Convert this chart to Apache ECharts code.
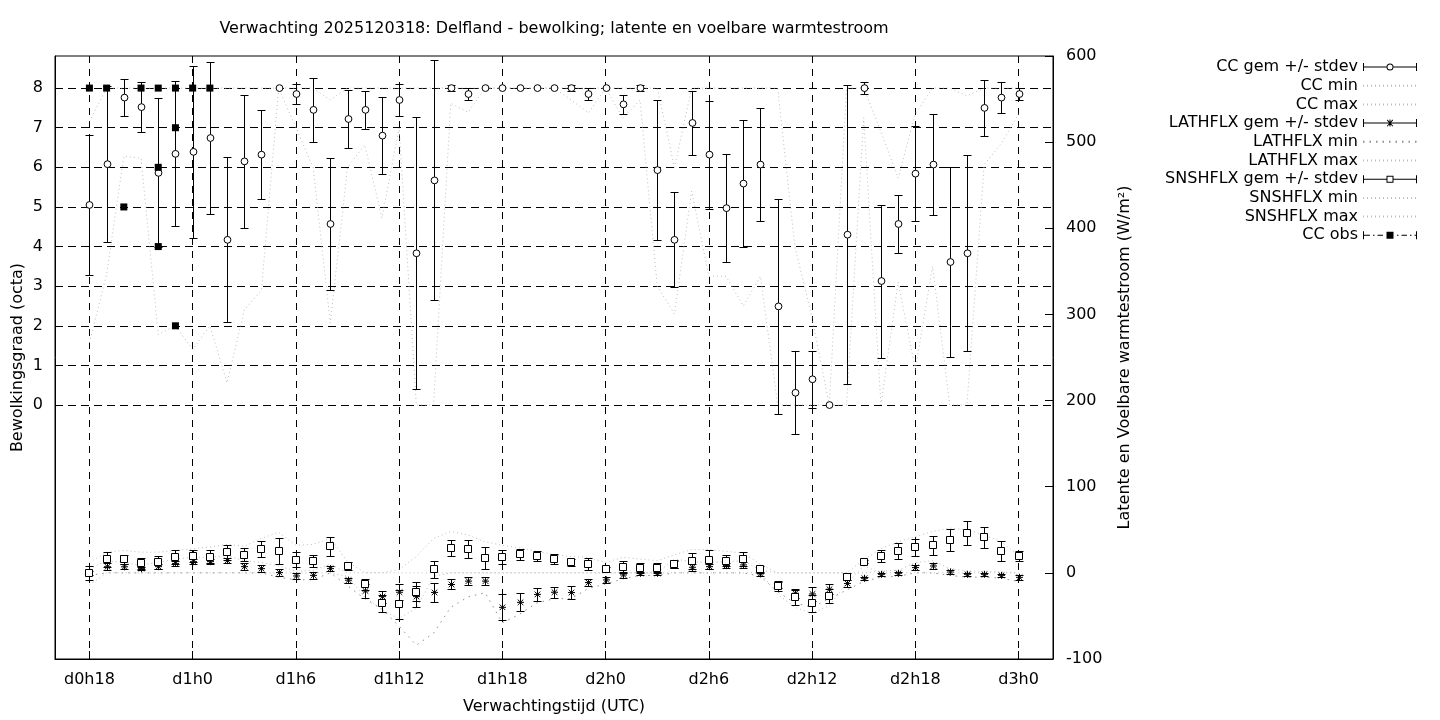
<!DOCTYPE html>
<html><head><meta charset="utf-8">
<script src="https://cdn.jsdelivr.net/npm/echarts@6/dist/echarts.min.js"></script>
<style>html,body{margin:0;padding:0;background:#fff}#c{width:1440px;height:720px}</style>
</head><body><div id="c"></div>
<script>
// ---- data (x = hours since d0h0) ----
const hours = [18,19,20,21,22,23,24,25,26,27,28,29,30,31,32,33,34,35,36,37,38,39,40,41,42,43,44,45,46,47,48,49,50,51,52,53,54,55,56,57,58,59,60,61,62,63,64,65,66,67,68,69,70,71,72];
const tickValues = [18,24,30,36,42,48,54,60,66,72];
const tickLabels = ['d0h18','d1h0','d1h6','d1h12','d1h18','d2h0','d2h6','d2h12','d2h18','d3h0'];
const ccTicks = [0,1,2,3,4,5,6,7,8];

const ccMean = [5.05,6.08,7.76,7.52,5.86,6.34,6.39,6.74,4.17,6.15, 6.32,8.0,7.85,7.45,4.57,7.22,7.45,6.8,7.7,3.83, 5.67,8.0,7.85,8.0,8.0,8.0,8.0,8.0,8.0,7.85, 8.0,7.59,8.0,5.93,4.17,7.12,6.32,4.97,5.59,6.07, 2.49,0.31,0.65,0.0,4.3,8.0,3.13,4.57,5.84,6.07, 3.61,3.83,7.5,7.76,7.85];
const ccStd = [1.77,1.97,0.47,0.63,1.88,1.83,2.17,1.93,2.08,1.68, 1.12,0,0.25,0.81,1.67,0.72,0.48,0.97,0.41,3.43, 3.03,0.08,0.15,0,0,0,0,0,0.08,0.15, 0,0.24,0.08,1.76,1.2,0.8,1.36,1.36,1.6,1.43, 2.72,1.05,0.72,0,3.77,0.16,1.93,0.72,1.2,1.28, 2.4,2.47,0.7,0.4,0.15];
const ccMin = [1.57,3.3,6.28,6.23,1.78,2.0,1.4,2.0,0.56,2.4, 2.9,8,7.0,6.0,2.07,6.0,6.57,4.72,7.0,0, 0,7.62,7.39,8,8,8,8,8,7.7,7.37, 8,7.24,7.7,3.0,2.3,5.4,3.25,3.25,2.5,3.25, 0,0,0,0,0,7.25,0,3.1,0.9,3.5, 0,0,6.07,6.6,7.35];
const ccMax = [7.16,8,8,8,8,8,8,8,8,8, 8,8,8,8,7.7,8,8,8,8,8, 8,8,8,8,8,8,8,8,8,8, 8,8,8,8,6.0,8,8,8,8,8, 8,4.0,2.2,0,8,8,6.9,5.73,7.35,8, 8,7.8,8,8,8];

const latMean = [0,7.1,7,4.9,7.2,11,13,13,14.2,7.2, 4.9,0.3,-3.6,-2.9,4.9,-8.5,-21,-27.6,-22.5,-27.6, -22.7,-13.5,-9.6,-9.6,-40,-34.2,-25,-22.5,-22.9,-11.3, -8.2,-2.4,-0.5,-0.5,9.2,6.5,7.2,8.4,9.2,-1.2, -14,-23.7,-24.5,-19,-12.3,-6.3,-1.7,-0.5,6.1,8, 1,-1.7,-1.7,-2.9,-5.2];
const latStd = [2,4,3,2,3,3,3,3,3,4, 4,4,3,4,3,3,8,7,9,12, 11.4,5.8,4.8,4.6,15,10.3,7.4,6.4,8,4, 3,3,2,2,4,4,3,3,3,2, 3,5,7.7,5.6,4,2,2,2,3,3, 2,2,2,2,3];
const latMin = [-3,0,0,0,0,0,0,0,0,0, 0,-5,-8,-8,0,-15,-30,-42,-62,-84, -70,-40,-28,-23,-58,-48,-35,-30,-30,-18, -13,-7,-3,-3,0,0,0,0,0,-4, -22,-35,-40,-30,-20,-10,-5,-4,0,0, -3,-5,-5,-6,-10];
const latMax = [5,14,12,9,12,16,18,18,20,14, 12,8,2,3,10,0,0,0,0,0, 0,0,0,0,0,0,0,0,0,0, 0,0,0,0,16,13,12,13,14,3, 0,0,0,0,0,0,2,3,12,14, 5,2,2,1,0];

const snsMean = [-0.5,15.6,15.6,11,12.3,18,19.6,18.8,23.9,20.8, 27.7,25.4,15,13.8,31,8,-13.4,-35.3,-36.5,-21.8, 4.1,28.4,27.3,16.9,18,21.6,19.6,15.8,12.3,9.9, 4.1,6.5,5.3,5.3,10.3,13.8,15,14.2,15.8,4.1, -15.2,-28.4,-35.3,-26.8,-4.5,13,19.6,25.4,29.7,31.9, 38.1,45.9,41.2,25.4,19.6];
const snsStd = [8,8.5,5,6.8,7.3,8,7.5,7.2,8.5,7.5, 9.5,15,8.7,7,11,5,6,10,17,11, 10,9.3,10.6,13,8,6.6,6,6,4,7, 3,7,6,6,5,9,11,6,8,4, 6,9,9.7,8,4,2,6.5,9,10,11, 13,14,12,11.6,6];
const snsMin = [-14,0,0,0,0,0,0,0,0,0, 0,0,0,0,0,-4,-28,-43,-53,-41, -4,0,0,0,0,0,0,0,0,0, 0,0,0,0,0,0,0,0,0,0, -25,-40,-47,-38,-12,8,0,0,0,0, 0,0,0,0,0];
const snsMax = [12,24,26,24,24,26,28,30,33,31, 40,47,32,33,40,13,0.3,0,4,19, 40,48,44,36,32,29,25,21,19,18, 12,18,16,14,21,27,27,25,23,10, 0,0,0,0,0,15,28,36,42,48, 52,50,44,36,20];

const obsHours = [18,19,20,21,22,22,22,23,23,23,24,25];
const obsCC    = [8,8,5,8,8,6,4,8,7,2,8,8];

// ---- helpers ----
const FONT = 'DejaVu Sans';
const FS = 16;
const GRAY = '#bebebe';
function errItem(marker){
  return function(params, api){
    const x = api.value(0), m = api.value(1), s = api.value(2);
    const p = api.coord([x, m]);
    const cx = Math.round(p[0]) + 0.5;
    const cy = p[1];
    const st = {stroke:'#000', lineWidth:1, fill:null};
    const ch = [];
    if (s > 0) {
      const t = Math.round(api.coord([x, m + s])[1]) + 0.5;
      const b = Math.round(api.coord([x, m - s])[1]) + 0.5;
      ch.push({type:'line', shape:{x1:cx,y1:t,x2:cx,y2:b}, style:st});
      ch.push({type:'line', shape:{x1:cx-4,y1:t,x2:cx+4,y2:t}, style:st});
      ch.push({type:'line', shape:{x1:cx-4,y1:b,x2:cx+4,y2:b}, style:st});
    }
    if (marker === 'circle') {
      ch.push({type:'circle', shape:{cx:cx, cy:cy, r:3.4}, style:{fill:'#fff', stroke:'#000', lineWidth:1}});
    } else if (marker === 'square') {
      const cyr = Math.round(cy) + 0.5;
      ch.push({type:'rect', shape:{x:cx-4, y:cyr-4, width:7, height:7}, style:{fill:'#fff', stroke:'#000', lineWidth:1}});
    } else {
      const a = 3.5, d = 2.8;
      ch.push({type:'line', shape:{x1:cx-a,y1:cy,x2:cx+a,y2:cy}, style:st});
      ch.push({type:'line', shape:{x1:cx,y1:cy-a,x2:cx,y2:cy+a}, style:st});
      ch.push({type:'line', shape:{x1:cx-d,y1:cy-d,x2:cx+d,y2:cy+d}, style:st});
      ch.push({type:'line', shape:{x1:cx-d,y1:cy+d,x2:cx+d,y2:cy-d}, style:st});
    }
    return {type:'group', children:ch};
  };
}
function rows(a, b){ return hours.map((h,i)=> b ? [h, a[i], b[i]] : [h, a[i]]); }
function dotted(name, arr, yIdx, dash, color){
  return {name:name, type:'line', yAxisIndex:yIdx, data:rows(arr), symbol:'none', silent:true,
    lineStyle:{color:color || GRAY, width:1, type:dash || [1,3]},
    itemStyle:{color:'rgba(0,0,0,0)', borderColor:'rgba(0,0,0,0)', borderWidth:0}, z:1};
}

const CAPS = 'M0,0H1V8H0Z M53,0H54V8H53Z ';
const iconCircle = 'path://' + CAPS + 'M1,3.5H23.5V4.5H1Z M30.5,3.5H53V4.5H30.5Z M23.5,4A3.5,3.5,0,1,1,30.5,4A3.5,3.5,0,1,1,23.5,4Z M24.5,4A2.5,2.5,0,1,0,29.5,4A2.5,2.5,0,1,0,24.5,4Z';
const iconStar = 'path://' + CAPS + 'M1,3.5H53V4.5H1Z M26.5,0.5H27.5V7.5H26.5Z M23.8,1.2L24.5,0.5L30.2,6.8L29.5,7.5Z M29.5,0.5L30.2,1.2L24.5,7.5L23.8,6.8Z';
const iconSquare = 'path://' + CAPS + 'M1,3.5H23.5V4.5H1Z M30.5,3.5H53V4.5H30.5Z M23.5,0.5H30.5V7.5H23.5Z M24.5,1.5V6.5H29.5V1.5Z';
const iconObs = 'path://' + CAPS + 'M1,3.5H7V4.5H1Z M10,3.5H11.5V4.5H10Z M14.5,3.5H20V4.5H14.5Z M23.5,0.5H30.5V7.5H23.5Z M34,3.5H35.5V4.5H34Z M38.5,3.5H44V4.5H38.5Z M47,3.5H48.5V4.5H47Z M51.5,3.5H53V4.5H51.5Z';

const chart = echarts.init(document.getElementById('c'), null, {renderer:'canvas'});
chart.setOption({
  animation:false,
  backgroundColor:'#fff',
  textStyle:{fontFamily:FONT, color:'#000'},
  title:{text:'Verwachting 2025120318: Delfland - bewolking; latente en voelbare warmtestroom',
    left:554, top:21, textAlign:'center', padding:0,
    textStyle:{fontFamily:FONT, fontSize:FS, fontWeight:'normal', color:'#000'}},
  grid:{left:55, right:387, top:56, bottom:61, containLabel:false, outerBoundsMode:'none',
    show:true, borderColor:'#000', borderWidth:1, backgroundColor:'transparent'},
  legend:{orient:'vertical', right:22, top:59, padding:0, align:'right', itemWidth:54, itemHeight:8, itemGap:2.7,
    selectedMode:false,
    itemStyle:{borderWidth:0},
    textStyle:{fontFamily:FONT, fontSize:FS, color:'#000'},
    data:[
      {name:'CC gem +/- stdev', icon:iconCircle},
      'CC min','CC max',
      {name:'LATHFLX gem +/- stdev', icon:iconStar},
      'LATHFLX min','LATHFLX max',
      {name:'SNSHFLX gem +/- stdev', icon:iconSquare},
      'SNSHFLX min','SNSHFLX max',
      {name:'CC obs', icon:iconObs}
    ]},
  xAxis:{type:'value', min:16, max:74,
    name:'Verwachtingstijd (UTC)', nameLocation:'middle', nameGap:40, nameMoveOverlap:false,
    nameTextStyle:{fontFamily:FONT, fontSize:FS, color:'#000'},
    axisLine:{show:true, onZero:false, lineStyle:{color:'#000', width:1}},
    axisTick:{show:true, inside:true, length:8, customValues:tickValues, lineStyle:{color:'#000'}},
    axisLabel:{customValues:tickValues, margin:13, fontFamily:FONT, fontSize:FS, color:'#000',
      formatter:function(v){ const i = tickValues.indexOf(v); return i >= 0 ? tickLabels[i] : ''; }},
    splitLine:{show:true, lineStyle:{color:'#000', width:1, type:[7,6]}}
  },
  yAxis:[{type:'value', min:-6.41, max:8.81, position:'left',
      name:'Bewolkingsgraad (octa)', nameLocation:'middle', nameGap:29, nameRotate:90, nameMoveOverlap:false,
      nameTextStyle:{fontFamily:FONT, fontSize:FS, color:'#000'},
      axisLine:{show:true, onZero:false, lineStyle:{color:'#000', width:1}},
      axisTick:{show:true, inside:true, length:8, customValues:ccTicks, lineStyle:{color:'#000'}},
      axisLabel:{customValues:ccTicks, margin:12, fontFamily:FONT, fontSize:FS, color:'#000'},
      splitLine:{show:true, lineStyle:{color:'#000', width:1, type:[8,5]}}
    },{type:'value', min:-100, max:600, interval:100, position:'right',
      name:'Latente en Voelbare warmtestroom (W/m²)', nameLocation:'middle', nameGap:64, nameRotate:90, nameMoveOverlap:false,
      nameTextStyle:{fontFamily:FONT, fontSize:FS, color:'#000'},
      axisLine:{show:true, onZero:false, lineStyle:{color:'#000', width:1}},
      axisTick:{show:true, inside:true, length:8, lineStyle:{color:'#000'}},
      axisLabel:{margin:13, fontFamily:FONT, fontSize:FS, color:'#000'},
      splitLine:{show:false}
    }],
  series:[
    dotted('CC min', ccMin, 0),
    dotted('CC max', ccMax, 0),
    dotted('LATHFLX min', latMin, 1, [1.5,5], '#909090'),
    dotted('LATHFLX max', latMax, 1),
    dotted('SNSHFLX min', snsMin, 1),
    dotted('SNSHFLX max', snsMax, 1),
    {name:'CC gem +/- stdev', type:'custom', yAxisIndex:0, renderItem:errItem('circle'),
      data:rows(ccMean, ccStd), encode:{x:0, y:1}, itemStyle:{color:'#000'}, z:3, silent:true},
    {name:'LATHFLX gem +/- stdev', type:'custom', yAxisIndex:1, renderItem:errItem('star'),
      data:rows(latMean, latStd), encode:{x:0, y:1}, itemStyle:{color:'#000'}, z:3, silent:true},
    {name:'SNSHFLX gem +/- stdev', type:'custom', yAxisIndex:1, renderItem:errItem('square'),
      data:rows(snsMean, snsStd), encode:{x:0, y:1}, itemStyle:{color:'#000'}, z:3, silent:true},
    {name:'CC obs', type:'scatter', yAxisIndex:0, symbol:'rect', symbolSize:7,
      data:obsHours.map((h,i)=>[h, obsCC[i]]), itemStyle:{color:'#000', opacity:1}, z:4, silent:true}
  ]
});
</script></body></html>
